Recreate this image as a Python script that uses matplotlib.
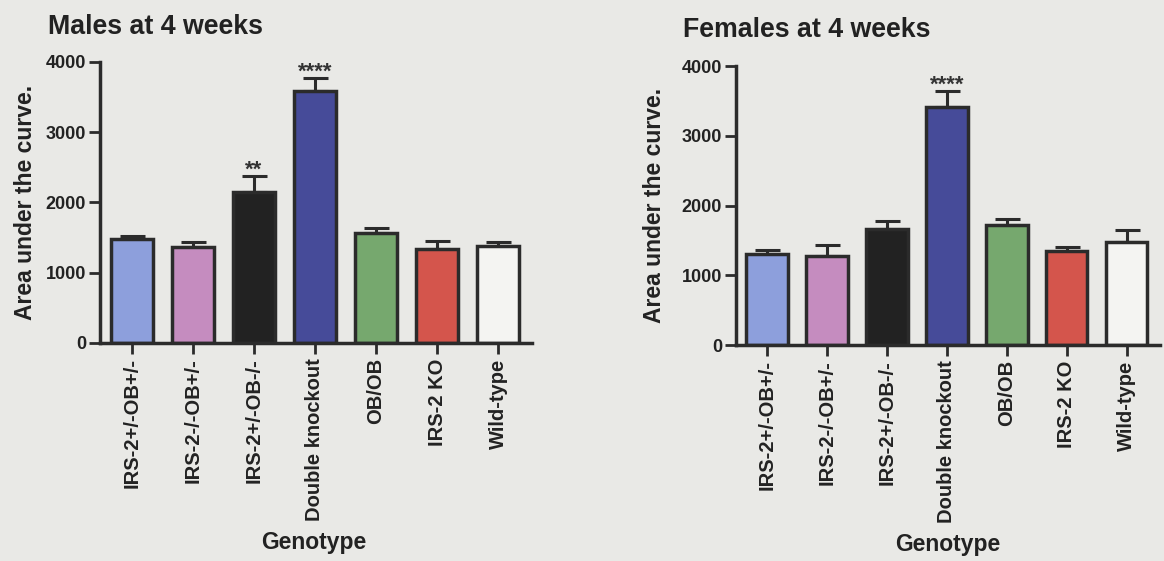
import matplotlib.pyplot as plt

plt.rcParams['font.family'] = ['Liberation Sans', 'DejaVu Sans']
plt.rcParams['font.weight'] = 'bold'

genotypes = ["IRS-2+/-OB+/-", "IRS-2-/-OB+/-", "IRS-2+/-OB-/-", "Double knockout",
             "OB/OB", "IRS-2 KO", "Wild-type"]
bar_colors = ["#8d9fdc", "#c58cbf", "#222222", "#464b99", "#76a86e", "#d4554c", "#f4f4f2"]

# mean area under the curve and upper SEM for each genotype
males_auc = [1478, 1364, 2154, 3588, 1560, 1340, 1380]
males_sem = [45, 80, 227, 190, 70, 116, 55]
males_sig = ["", "", "**", "****", "", "", ""]

females_auc = [1305, 1276, 1668, 3417, 1716, 1352, 1472]
females_sem = [57, 158, 115, 225, 95, 58, 177]
females_sig = ["", "", "", "****", "", "", ""]

EDGE = "#2b2b2b"
TEXT = "#222222"


def draw_panel(ax, title, values, sem, sig, ylabelpad, title_xy):
    x = range(len(genotypes))
    ax.bar(x, values, width=0.69, color=bar_colors, edgecolor=EDGE, linewidth=2.5, zorder=2)
    ax.errorbar(x, values, yerr=[[0] * len(sem), sem], fmt="none", ecolor=EDGE,
                elinewidth=2.2, capsize=9, capthick=2.2, zorder=1)
    for xi, v, e, s in zip(x, values, sem, sig):
        if s:
            ax.text(xi, v + e + 80, s, ha="center", va="center", fontsize=16,
                    fontweight="bold", color="#333333")

    ax.set_xlim(-0.52, 6.55)
    ax.set_ylim(0, 4000)
    ax.set_yticks([0, 1000, 2000, 3000, 4000])
    ax.set_xticks(list(x))
    ax.set_xticklabels(genotypes, rotation=90, fontsize=14.5, fontweight="bold", color=TEXT)
    ax.tick_params(axis="y", labelsize=13, length=8, width=2, pad=2, color=EDGE,
                   labelcolor=TEXT)
    ax.tick_params(axis="x", length=8, width=2, pad=3, color=EDGE)
    for lab in ax.get_yticklabels():
        lab.set_fontweight("bold")

    for side in ("top", "right"):
        ax.spines[side].set_visible(False)
    for side in ("left", "bottom"):
        ax.spines[side].set_linewidth(2.5)
        ax.spines[side].set_color(EDGE)
    ax.set_facecolor("none")

    ax.set_ylabel("Area under the curve.", fontsize=16.5, fontweight="bold",
                  labelpad=ylabelpad, color=TEXT)
    ax.set_xlabel("Genotype", fontsize=16.5, fontweight="bold", color=TEXT)
    ax.set_title(title, fontsize=19.3, fontweight="bold", loc="left",
                 x=title_xy[0], y=title_xy[1], color=TEXT)


fig = plt.figure(figsize=(11.64, 5.61), dpi=100, facecolor="#e9e9e6")
ax_m = fig.add_axes([0.0859, 0.3886, 0.371, 0.501])
ax_f = fig.add_axes([0.6323, 0.385, 0.364, 0.497])

draw_panel(ax_m, "Males at 4 weeks", males_auc, males_sem, males_sig, 6, (-0.12, 1.07))
draw_panel(ax_f, "Females at 4 weeks", females_auc, females_sem, females_sig, 11,
           (-0.125, 1.075))
ax_m.xaxis.set_label_coords(0.495, -0.67)
ax_f.xaxis.set_label_coords(0.5, -0.675)

fig.savefig("out.png", dpi=100, facecolor=fig.get_facecolor())
